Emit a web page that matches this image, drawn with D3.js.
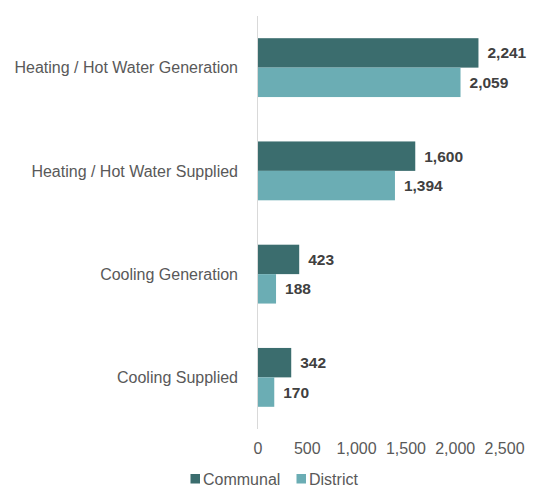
<!DOCTYPE html>
<html>
<head>
<meta charset="utf-8">
<script src="https://cdn.jsdelivr.net/npm/d3@7"></script>
<style>
  body { margin: 0; background: #fff; }
  text { font-family: "Liberation Sans", Arial, sans-serif; }
</style>
</head>
<body>
<svg id="chart" width="540" height="502"></svg>
<script>
const categories = ['Heating / Hot Water Generation', 'Heating / Hot Water Supplied', 'Cooling Generation', 'Cooling Supplied'];
const seriesNames = ['Communal', 'District'];
const communal = [2241, 1600, 423, 342];
const district = [2059, 1394, 188, 170];
const xTicks = [0, 500, 1000, 1500, 2000, 2500];

const colors = {Communal: '#3b6d6e', District: '#6badb4'};

const svg = d3.select('#chart');
const rows = categories.map((c, i) => ({cat: c, values: [
  {key: 'Communal', v: communal[i]},
  {key: 'District', v: district[i]}
]}));

const x = d3.scaleLinear().domain([0, 2500]).range([257.5, 504]);
const y = d3.scaleBand().domain(categories).range([16, 429]).paddingInner(0.43).paddingOuter(0.215);
const y1 = d3.scaleBand().domain(seriesNames).range([0, y.bandwidth()]);

// bars
const g = svg.selectAll('g.grp').data(rows).enter().append('g')
  .attr('class', 'grp')
  .attr('transform', d => 'translate(0,' + y(d.cat) + ')');

g.selectAll('rect').data(d => d.values).enter().append('rect')
  .attr('x', x(0))
  .attr('y', d => y1(d.key))
  .attr('width', d => x(d.v) - x(0))
  .attr('height', y1.bandwidth())
  .attr('fill', d => colors[d.key]);

g.selectAll('text.val').data(d => d.values).enter().append('text')
  .attr('class', 'val')
  .attr('x', d => x(d.v) + 9)
  .attr('y', d => y1(d.key) + y1.bandwidth() / 2)
  .attr('dy', '0.36em')
  .attr('font-size', 15.5)
  .attr('font-weight', 'bold')
  .attr('fill', '#404040')
  .text(d => d3.format(',')(d.v));

// category labels
svg.selectAll('text.cat').data(categories).enter().append('text')
  .attr('class', 'cat')
  .attr('x', 238)
  .attr('y', d => y(d) + y.bandwidth() / 2)
  .attr('dy', '0.36em')
  .attr('text-anchor', 'end')
  .attr('font-size', 16)
  .attr('fill', '#595959')
  .text(d => d);

// vertical axis line
svg.append('line')
  .attr('x1', x(0)).attr('x2', x(0))
  .attr('y1', 16).attr('y2', 429)
  .attr('stroke', '#d9d9d9').attr('stroke-width', 1);

// x axis tick labels
const xAxis = d3.axisBottom(x).tickValues(xTicks).tickFormat(d3.format(',')).tickSize(0).tickPadding(0);
const ax = svg.append('g').attr('transform', 'translate(0,443)').call(xAxis);
ax.select('.domain').remove();
ax.selectAll('text')
  .attr('font-size', 16)
  .attr('font-family', '"Liberation Sans", Arial, sans-serif')
  .attr('fill', '#595959');

// legend
const legendX = [190.5, 296.5];
const leg = svg.selectAll('g.leg').data(seriesNames).enter().append('g')
  .attr('class', 'leg')
  .attr('transform', (d, i) => 'translate(' + legendX[i] + ',474)');
leg.append('rect').attr('width', 9.5).attr('height', 9.5).attr('fill', d => colors[d]);
leg.append('text')
  .attr('x', 12.5).attr('y', 5).attr('dy', '0.36em')
  .attr('font-size', 16)
  .attr('fill', '#595959')
  .text(d => d);
</script>
</body>
</html>
